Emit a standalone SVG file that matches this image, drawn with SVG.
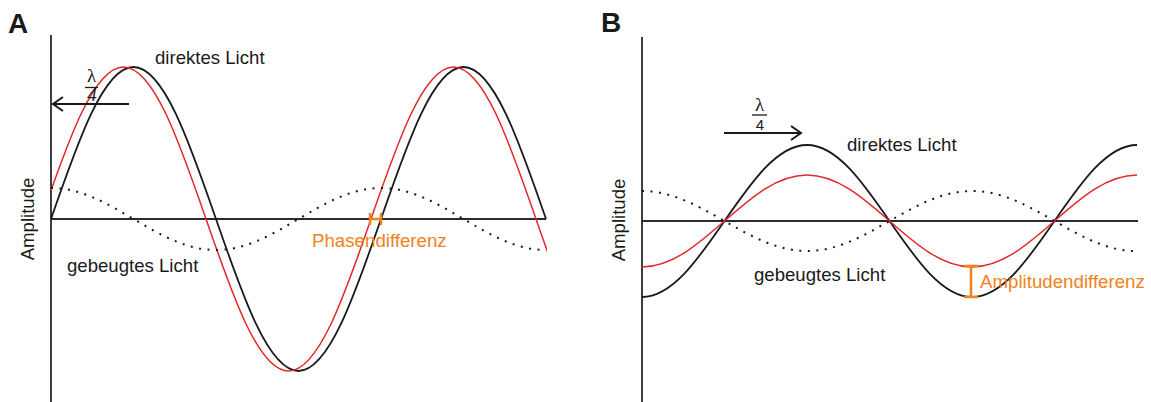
<svg xmlns="http://www.w3.org/2000/svg" width="1151" height="402" viewBox="0 0 1151 402">
<style>
.axis{stroke:#2b2b2b;stroke-width:1.8;fill:none}
.blk{stroke:#1a1a1a;stroke-width:1.8;fill:none}
.red{stroke:#e3262a;stroke-width:1.5;fill:none}
.dot{stroke:#1a1a1a;stroke-width:2;fill:none;stroke-dasharray:2 6.5}
.org{stroke:#f08220;stroke-width:2.5;fill:none}
.arr{stroke:#1a1a1a;stroke-width:2;fill:none}
.lbl{font-family:"Liberation Sans",Arial,sans-serif;font-size:18.6px;fill:#1a1a1a}
.olbl{font-family:"Liberation Sans",Arial,sans-serif;font-size:18.7px;fill:#f08220}
.pan{font-family:"Liberation Sans",Arial,sans-serif;font-size:28px;font-weight:bold;fill:#1a1a1a}
.lam{font-family:"Liberation Serif","Times New Roman",serif;font-size:19px;fill:#1a1a1a;text-anchor:middle}
</style>
<defs>
<clipPath id="clipA"><rect x="51" y="0" width="496" height="402"/></clipPath>
</defs>

<g id="panelA">
<text class="pan" x="8" y="33">A</text>
<text class="lbl" transform="translate(34,219) rotate(-90)" text-anchor="middle" font-size="19.5">Amplitude</text>
<path class="axis" d="M51,35V402M51,219H546"/>
</g>

<g id="curvesA">
<path id="A-direct" class="blk" d="M51,219 C77.9,141.13 103.64,67 133.5,67 C163.36,67 189.1,141.13 216,219 C242.9,296.87 268.64,371 298.5,371 C328.36,371 354.1,296.87 381,219 C407.9,141.13 433.64,67 463.5,67 C493.36,67 519.1,141.13 546,219"/>
<path id="A-red" class="red" clip-path="url(#clipA)" d="M41,219 C67.9,141.13 93.64,67 123.5,67 C153.36,67 179.1,141.13 206,219 C232.9,296.87 258.64,371 288.5,371 C318.36,371 344.1,296.87 371,219 C397.9,141.13 423.64,67 453.5,67 C483.36,67 509.1,141.13 536,219 C562.9,296.87 588.64,371 618.5,371"/>
<path id="A-diffracted" class="dot" d="M51,188 C80.86,188 106.6,203.12 133.5,219 C160.4,234.88 186.14,250 216,250 C245.86,250 271.6,234.88 298.5,219 C325.4,203.12 351.14,188 381,188 C410.86,188 436.6,203.12 463.5,219 C490.4,234.88 516.14,250 546,250"/>
</g>

<g id="labelsA">
<text class="lbl" x="155" y="64">direktes Licht</text>
<text class="lbl" x="67" y="272">gebeugtes Licht</text>
<g id="lambdaA">
<text class="lam" x="91.5" y="82">λ</text>
<path d="M85,87.5H98" stroke="#1a1a1a" stroke-width="1.3"/>
<text class="lam" x="92" y="101" font-size="12.5" font-style="italic">4</text>
<path class="arr" d="M129,104H53M63,97L53,104L63,111"/>
</g>
<g id="phaseDiff">
<path class="org" d="M370,213V225M381,213V225M370,219H381"/>
<text class="olbl" x="312" y="247">Phasendifferenz</text>
</g>
</g>

<g id="panelB">
<text class="pan" x="601" y="32" font-size="27">B</text>
<text class="lbl" transform="translate(625,220) rotate(-90)" text-anchor="middle" font-size="19.5">Amplitude</text>
<path class="axis" d="M642,37V402M642,221H1138"/>
</g>

<g id="curvesB">
<path id="B-direct" class="blk" d="M642,297 C671.86,297 697.6,259.93 724.5,221 C751.4,182.07 777.14,145 807,145 C836.86,145 862.6,182.07 889.5,221 C916.4,259.93 942.14,297 972,297 C1001.86,297 1027.6,259.93 1054.5,221 C1081.4,182.07 1107.14,145 1137,145"/>
<path id="B-red" class="red" d="M642,267 C671.86,267 697.6,244.57 724.5,221 C751.4,197.43 777.14,175 807,175 C836.86,175 862.6,197.43 889.5,221 C916.4,244.57 942.14,267 972,267 C1001.86,267 1027.6,244.57 1054.5,221 C1081.4,197.43 1107.14,175 1137,175"/>
<path id="B-diffracted" class="dot" d="M642,191 C671.86,191 697.6,205.63 724.5,221 C751.4,236.37 777.14,251 807,251 C836.86,251 862.6,236.37 889.5,221 C916.4,205.63 942.14,191 972,191 C1001.86,191 1027.6,205.63 1054.5,221 C1081.4,236.37 1107.14,251 1135,251"/>
</g>

<g id="labelsB">
<text class="lbl" x="847" y="151">direktes Licht</text>
<text class="lbl" x="754" y="281">gebeugtes Licht</text>
<g id="lambdaB">
<text class="lam" x="759.5" y="111">λ</text>
<path d="M752,115H767" stroke="#1a1a1a" stroke-width="1.3"/>
<text x="760" y="130" font-family="Liberation Sans,Arial,sans-serif" font-size="15" text-anchor="middle" fill="#1a1a1a">4</text>
<path class="arr" d="M724,133H801M791,126L801,133L791,140"/>
</g>
<g id="ampDiff">
<path class="org" d="M971,266V297M964,266H978M964,297H978"/>
<text class="olbl" x="980" y="288" font-size="19">Amplitudendifferenz</text>
</g>
</g>
</svg>
